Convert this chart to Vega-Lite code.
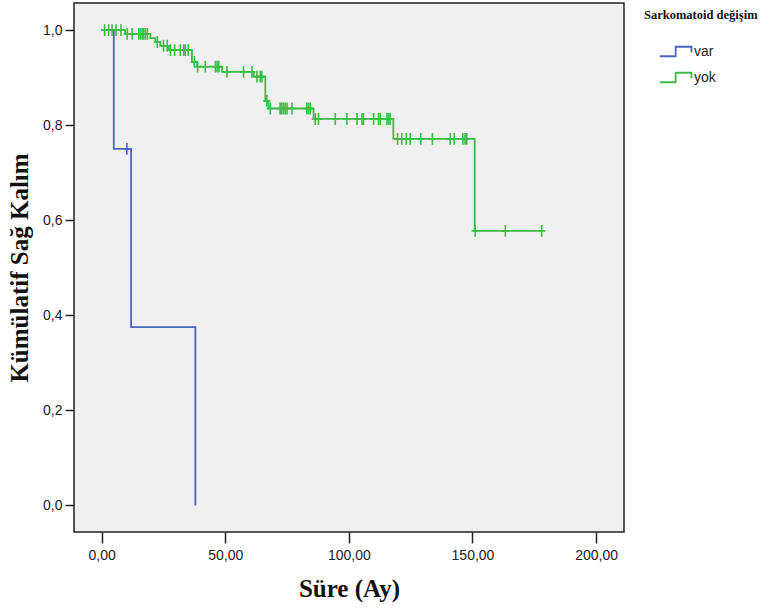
{
  "$schema": "https://vega.github.io/schema/vega-lite/v6.json",
  "width": 550,
  "height": 529,
  "autosize": {"type": "none"},
  "padding": {"left": 74, "top": 3, "right": 140, "bottom": 83},
  "background": "#ffffff",
  "config": {
    "view": {"fill": "#f0f0f0", "stroke": "#222222", "strokeWidth": 1.5},
    "axis": {
      "grid": false,
      "domain": false,
      "tickColor": "#222222",
      "tickWidth": 1.5,
      "labelFont": "Liberation Sans",
      "labelFontSize": 14,
      "labelColor": "#222222",
      "titleFont": "Liberation Serif",
      "titleFontSize": 25,
      "titleFontWeight": "bold",
      "titleColor": "#111111"
    }
  },
  "datasets": {
    "curve": [
      {"group": "var", "time": 0, "surv": 1.0},
      {"group": "var", "time": 4.9, "surv": 0.75},
      {"group": "var", "time": 11.9, "surv": 0.375},
      {"group": "var", "time": 37.9, "surv": 0.0},
      {"group": "yok", "time": 0, "surv": 1.0},
      {"group": "yok", "time": 9.5, "surv": 0.992},
      {"group": "yok", "time": 19.7, "surv": 0.983},
      {"group": "yok", "time": 21.7, "surv": 0.975},
      {"group": "yok", "time": 23.7, "surv": 0.967},
      {"group": "yok", "time": 27.1, "surv": 0.958},
      {"group": "yok", "time": 36.5, "surv": 0.933},
      {"group": "yok", "time": 38.6, "surv": 0.923},
      {"group": "yok", "time": 48.7, "surv": 0.912},
      {"group": "yok", "time": 61.5, "surv": 0.902},
      {"group": "yok", "time": 66.2, "surv": 0.851},
      {"group": "yok", "time": 67.5, "surv": 0.835},
      {"group": "yok", "time": 85.7, "surv": 0.813},
      {"group": "yok", "time": 118.0, "surv": 0.771},
      {"group": "yok", "time": 150.9, "surv": 0.5775},
      {"group": "yok", "time": 178.0, "surv": 0.5775}
    ],
    "censored": [
      {"group": "var", "time": 10.2, "surv": 0.75},
      {"group": "yok", "time": 1.2, "surv": 1.0},
      {"group": "yok", "time": 2.8, "surv": 1.0},
      {"group": "yok", "time": 4.2, "surv": 1.0},
      {"group": "yok", "time": 5.8, "surv": 1.0},
      {"group": "yok", "time": 7.8, "surv": 1.0},
      {"group": "yok", "time": 10.3, "surv": 0.992},
      {"group": "yok", "time": 12.3, "surv": 0.992},
      {"group": "yok", "time": 15.0, "surv": 0.992},
      {"group": "yok", "time": 15.7, "surv": 0.992},
      {"group": "yok", "time": 16.4, "surv": 0.992},
      {"group": "yok", "time": 17.0, "surv": 0.992},
      {"group": "yok", "time": 17.7, "surv": 0.992},
      {"group": "yok", "time": 18.5, "surv": 0.992},
      {"group": "yok", "time": 22.5, "surv": 0.975},
      {"group": "yok", "time": 25.0, "surv": 0.967},
      {"group": "yok", "time": 26.5, "surv": 0.967},
      {"group": "yok", "time": 27.8, "surv": 0.958},
      {"group": "yok", "time": 29.5, "surv": 0.958},
      {"group": "yok", "time": 31.8, "surv": 0.958},
      {"group": "yok", "time": 33.2, "surv": 0.958},
      {"group": "yok", "time": 33.8, "surv": 0.958},
      {"group": "yok", "time": 35.0, "surv": 0.958},
      {"group": "yok", "time": 37.5, "surv": 0.933},
      {"group": "yok", "time": 38.8, "surv": 0.923},
      {"group": "yok", "time": 41.9, "surv": 0.923},
      {"group": "yok", "time": 46.0, "surv": 0.923},
      {"group": "yok", "time": 46.7, "surv": 0.923},
      {"group": "yok", "time": 47.4, "surv": 0.923},
      {"group": "yok", "time": 50.7, "surv": 0.912},
      {"group": "yok", "time": 57.4, "surv": 0.912},
      {"group": "yok", "time": 60.8, "surv": 0.912},
      {"group": "yok", "time": 62.8, "surv": 0.902},
      {"group": "yok", "time": 64.2, "surv": 0.902},
      {"group": "yok", "time": 64.8, "surv": 0.902},
      {"group": "yok", "time": 66.8, "surv": 0.851},
      {"group": "yok", "time": 68.2, "surv": 0.835},
      {"group": "yok", "time": 72.2, "surv": 0.835},
      {"group": "yok", "time": 72.9, "surv": 0.835},
      {"group": "yok", "time": 73.6, "surv": 0.835},
      {"group": "yok", "time": 74.3, "surv": 0.835},
      {"group": "yok", "time": 75.0, "surv": 0.835},
      {"group": "yok", "time": 77.0, "surv": 0.835},
      {"group": "yok", "time": 83.0, "surv": 0.835},
      {"group": "yok", "time": 83.7, "surv": 0.835},
      {"group": "yok", "time": 84.4, "surv": 0.835},
      {"group": "yok", "time": 86.4, "surv": 0.813},
      {"group": "yok", "time": 87.7, "surv": 0.813},
      {"group": "yok", "time": 94.5, "surv": 0.813},
      {"group": "yok", "time": 99.2, "surv": 0.813},
      {"group": "yok", "time": 103.3, "surv": 0.813},
      {"group": "yok", "time": 105.3, "surv": 0.813},
      {"group": "yok", "time": 105.9, "surv": 0.813},
      {"group": "yok", "time": 110.0, "surv": 0.813},
      {"group": "yok", "time": 112.0, "surv": 0.813},
      {"group": "yok", "time": 112.7, "surv": 0.813},
      {"group": "yok", "time": 115.4, "surv": 0.813},
      {"group": "yok", "time": 116.0, "surv": 0.813},
      {"group": "yok", "time": 116.7, "surv": 0.813},
      {"group": "yok", "time": 119.7, "surv": 0.771},
      {"group": "yok", "time": 121.4, "surv": 0.771},
      {"group": "yok", "time": 123.2, "surv": 0.771},
      {"group": "yok", "time": 124.8, "surv": 0.771},
      {"group": "yok", "time": 129.1, "surv": 0.771},
      {"group": "yok", "time": 133.8, "surv": 0.771},
      {"group": "yok", "time": 141.0, "surv": 0.771},
      {"group": "yok", "time": 142.6, "surv": 0.771},
      {"group": "yok", "time": 146.1, "surv": 0.771},
      {"group": "yok", "time": 147.0, "surv": 0.771},
      {"group": "yok", "time": 147.7, "surv": 0.771},
      {"group": "yok", "time": 151.1, "surv": 0.5775},
      {"group": "yok", "time": 163.3, "surv": 0.5775},
      {"group": "yok", "time": 178.0, "surv": 0.5775}
    ]
  },
  "encoding": {
    "x": {
      "field": "time",
      "type": "quantitative",
      "scale": {"domain": [-11.2, 211.3], "nice": false, "zero": false},
      "axis": {
        "values": [0, 50, 100, 150, 200],
        "title": "Süre (Ay)",
        "tickSize": 11,
        "labelPadding": 5,
        "titlePadding": 14,
        "labelExpr": "replace(format(datum.value, '.2f'), '.', ',')"
      }
    },
    "y": {
      "field": "surv",
      "type": "quantitative",
      "scale": {"domain": [-0.056, 1.057], "nice": false, "zero": false},
      "axis": {
        "values": [0, 0.2, 0.4, 0.6, 0.8, 1.0],
        "title": "Kümülatif Sağ Kalım",
        "tickSize": 9,
        "labelPadding": 3,
        "titlePadding": 10,
        "labelExpr": "replace(format(datum.value, '.1f'), '.', ',')"
      }
    }
  },
  "layer": [
    {
      "data": {"name": "curve"},
      "mark": {"type": "line", "interpolate": "step-after", "strokeWidth": 1.8},
      "encoding": {
        "color": {
          "field": "group",
          "type": "nominal",
          "scale": {"domain": ["var", "yok"], "range": ["#4a64bc", "#3dbb47"]},
          "legend": {
            "title": "Sarkomatoid değişim",
            "orient": "none",
            "legendX": 570,
            "legendY": 6,
            "padding": 0,
            "titleFont": "Liberation Serif",
            "titleFontSize": 12.5,
            "titleFontWeight": "bold",
            "titleColor": "#111111",
            "titleLimit": 400,
            "titlePadding": 13,
            "labelFont": "Liberation Sans",
            "labelFontSize": 14,
            "labelColor": "#222222",
            "labelOffset": 14,
            "symbolType": "M-0.2,0.3H0.8V-0.3H1.8V0.05",
            "symbolSize": 1000,
            "symbolStrokeWidth": 1.8,
            "symbolFillColor": "transparent",
            "symbolOffset": 2,
            "rowPadding": -10
          }
        },
        "detail": {"field": "group"}
      }
    },
    {
      "data": {"name": "censored"},
      "mark": {"type": "point", "shape": "M-0.6,0H0.6M0,-1V1", "size": 140, "strokeWidth": 1.6, "filled": false, "opacity": 1},
      "encoding": {
        "color": {"field": "group", "type": "nominal", "legend": null}
      }
    }
  ]
}
